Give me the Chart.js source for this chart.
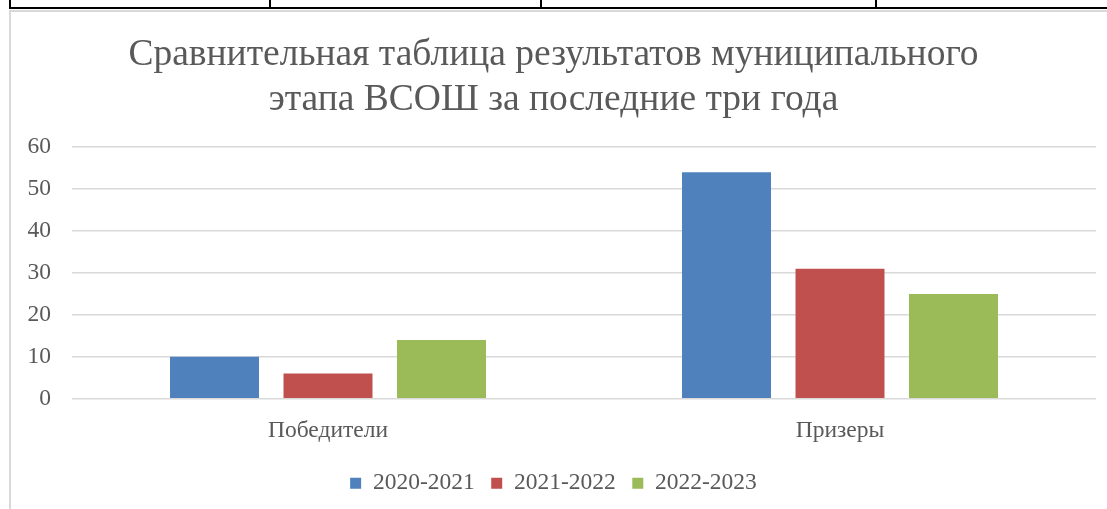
<!DOCTYPE html>
<html>
<head>
<meta charset="utf-8">
<script src="https://cdn.jsdelivr.net/npm/chart.js@4"></script>
<style>
  html, body { margin: 0; padding: 0; background: #fff; }
  body { width: 1107px; height: 509px; position: relative; overflow: hidden; }
  .hline { position: absolute; left: 9px; top: 7px; width: 1100px; height: 2px; background: #000; }
  .vline { position: absolute; top: 0; width: 2px; height: 8px; background: #000; }
  #frame { position: absolute; left: 9px; top: 10px; width: 1110px; height: 520px; border: 2px solid #d9d9d9; box-sizing: border-box; }
  #wrap { position: absolute; left: 11px; top: 12px; width: 1096px; height: 497px; }
</style>
</head>
<body>
<div class="hline"></div>
<div class="vline" style="left:9px"></div>
<div class="vline" style="left:269px"></div>
<div class="vline" style="left:540px"></div>
<div class="vline" style="left:875px"></div>
<div id="frame"></div>
<div id="wrap"><canvas id="chart"></canvas></div>
<script>
const textColor = '#595959'
const gridColor = '#d9d9d9'

const categories = ['Победители', 'Призеры']
const seriesNames = ['2020-2021', '2021-2022', '2022-2023']
const values2020 = [10, 54]
const values2021 = [6, 31]
const values2022 = [14, 25]
const seriesColors = ['#4f81bd', '#c0504d', '#9bbb59']
const titleLines = ['Сравнительная таблица результатов муниципального', 'этапа ВСОШ за последние три года']

const serif = "'Liberation Serif', 'Times New Roman', serif"

function drawChart() {
	var ctx = document.getElementById('chart')
	var data = {
		labels: categories,
		datasets: [values2020, values2021, values2022].map(function (vals, i) {
			return {
				label: seriesNames[i],
				data: vals,
				backgroundColor: seriesColors[i],
				borderWidth: 0,
				categoryPercentage: 0.665,
				barPercentage: 0.784,
			}
		})
	}

	new Chart(ctx, {
		type: 'bar',
		data: data,
		options: {
			responsive: true,
			maintainAspectRatio: false,
			animation: false,
			layout: { padding: { left: 0, right: 11, top: 20, bottom: 4 } },
			plugins: {
				title: {
					display: true,
					text: titleLines,
					color: textColor,
					font: { family: serif, size: 37.5, weight: 'normal', lineHeight: 1.22 },
					padding: { top: 0, bottom: 23.5 },
				},
				legend: {
					position: 'bottom',
					labels: {
						color: textColor,
						font: { family: serif, size: 23.5 },
						boxWidth: 11,
						boxHeight: 11,
						padding: 16.5,
					},
				},
				tooltip: { enabled: false },
			},
			scales: {
				x: {
					grid: { display: false },
					border: { display: false },
					ticks: { color: textColor, font: { family: serif, size: 23.5 }, padding: 10 },
				},
				y: {
					min: 0,
					max: 60,
					afterFit: function (scale) { scale.width = 61 },
					ticks: { stepSize: 10, color: textColor, font: { family: serif, size: 23.5 }, padding: 21 },
					grid: { color: gridColor, lineWidth: 1.5, drawTicks: false },
					border: { display: false },
				},
			},
		},
	})
}

if (document.fonts && document.fonts.load) {
	document.fonts.load("20px 'Liberation Serif'").then(drawChart, drawChart)
} else {
	drawChart()
}
</script>
</body>
</html>
